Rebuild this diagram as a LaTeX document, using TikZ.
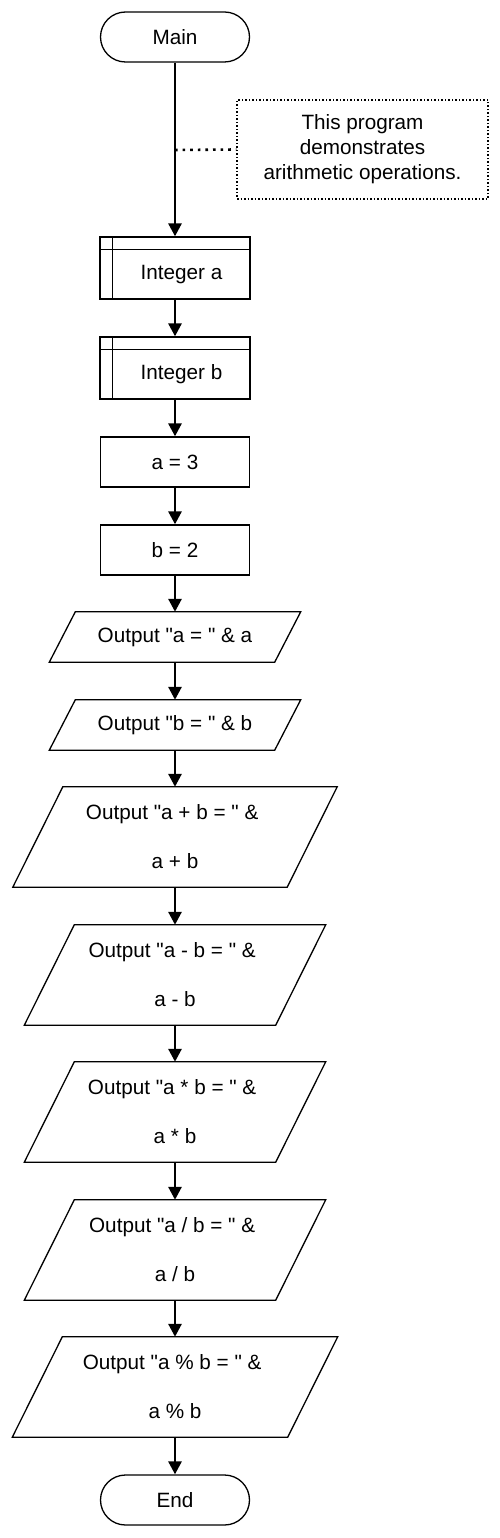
\documentclass[tikz,border=0pt]{standalone}
\usepackage{fontspec}
\setmainfont{Liberation Sans}[Ligatures=TeXOff]
\usetikzlibrary{arrows.meta}
\begin{document}
\begin{tikzpicture}[x=1pt,y=-1pt,
  every node/.style={font=\fontsize{20.7}{25}\selectfont, inner sep=0pt, text=black},
  boxline/.style={draw=black, line width=1.3pt},
  terminal/.style={boxline, rectangle, rounded corners=25pt, minimum width=149pt, minimum height=50pt},
  process/.style={boxline, rectangle, minimum width=149pt, minimum height=50pt},
  decl/.style={boxline, rectangle, minimum width=150pt, minimum height=62pt},
  io/.style n args={3}{rectangle, minimum width=#1pt, minimum height=#2pt, align=center,
    append after command={\pgfextra{
      \draw[boxline, line join=miter] ([xshift=#3pt]\tikzlastnode.north west) -- (\tikzlastnode.north east)
        -- ([xshift=-#3pt]\tikzlastnode.south east) -- (\tikzlastnode.south west) -- cycle;}}},
  comment/.style={draw=black, line width=1.3pt, dash pattern=on 1.5pt off 2pt, rectangle,
    minimum width=251pt, minimum height=99pt, align=center},
  commentlink/.style={line width=2.6pt, dash pattern=on 2.6pt off 5pt},
  flow/.style={line width=2.8pt, -{Triangle[length=13pt,width=13pt]}}
]
\fill[white] (0,0) rectangle (500,1538);
\useasboundingbox (0,0) rectangle (500,1538);

\node[terminal] (main) at (175,37) {Main};
\node[comment] (cmt) at (362.5,149.5) {This program\\demonstrates\\arithmetic operations.};
\node[decl] (inta) at (175,268) {};
\node (intatext) at (181.5,274.5) {Integer a};
\node[decl] (intb) at (175,368) {};
\node (intbtext) at (181.5,374.5) {Integer b};
\foreach \n in {inta,intb}{
  \draw[boxline] ([yshift=-13pt]\n.north west) -- ([yshift=-13pt]\n.north east);
  \draw[boxline] ([xshift=13pt]\n.north west) -- ([xshift=13pt]\n.south west);
}
\node[process] (a3) at (175,462) {a = 3};
\node[process] (b2) at (175,550) {b = 2};
\node[io={251}{50}{26}] (out1) at (175,637) {Output "a = " \& a};
\node[io={251}{50}{26}] (out2) at (175,725) {Output "b = " \& b};
\node[io={324}{100}{50}] (out3) at (175,837) {Output "a + b = " \&\kern5.7pt\\[24pt]a + b};
\node[io={301}{100}{50}] (out4) at (175,975) {Output "a - b = " \&\kern5.7pt\\[24pt]a - b};
\node[io={301}{100}{50}] (out5) at (175,1112) {Output "a * b = " \&\kern5.7pt\\[24pt]a * b};
\node[io={301}{100}{50}] (out6) at (175,1250) {Output "a / b = " \&\kern5.7pt\\[24pt]a / b};
\node[io={325}{100}{50}] (out7) at (175,1387) {Output "a \% b = " \&\kern5.7pt\\[24pt]a \% b};
\node[terminal] (end) at (175,1500) {End};

\coordinate (cj) at (175,150);
\draw[flow] (main) -- (inta);
\draw[commentlink] (cj) -- (cmt.west);
\draw[flow] (inta) -- (intb);
\draw[flow] (intb) -- (a3);
\draw[flow] (a3) -- (b2);
\draw[flow] (b2) -- (out1);
\draw[flow] (out1) -- (out2);
\draw[flow] (out2) -- (out3);
\draw[flow] (out3) -- (out4);
\draw[flow] (out4) -- (out5);
\draw[flow] (out5) -- (out6);
\draw[flow] (out6) -- (out7);
\draw[flow] (out7) -- (end);
\end{tikzpicture}
\end{document}
